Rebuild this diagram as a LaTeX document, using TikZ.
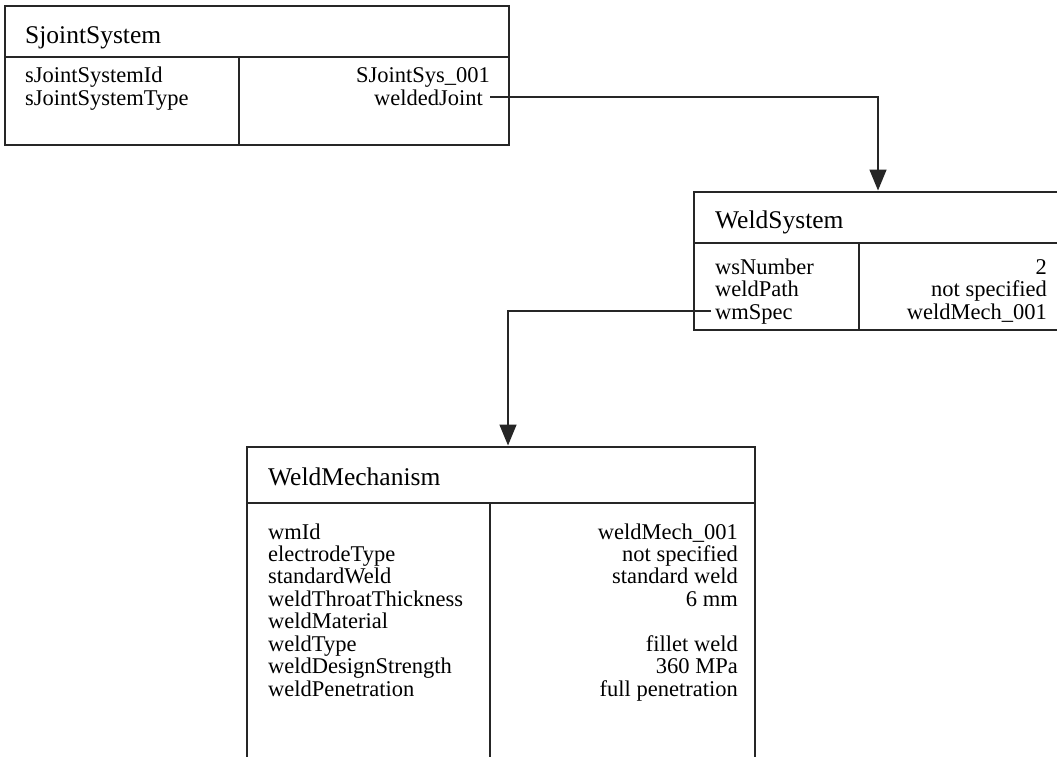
\documentclass[tikz,border=0pt]{standalone}
\usepackage{fontspec}
\setmainfont{Liberation Serif}
\usetikzlibrary{arrows.meta,calc}
\begin{document}
\begin{tikzpicture}[x=1pt,y=-1pt,
  frame/.style={draw=black!85, line width=1.8pt},
  boxnode/.style={frame, anchor=north west, inner sep=0pt, outer sep=0pt},
  link/.style={draw=black!85, line width=1.5pt, shorten >=1.5pt,
    -{Triangle[width=17pt,length=21pt]}},
  title/.style={anchor=base west, inner sep=0pt, font=\fontsize{25.5}{25.5}\selectfont},
  key/.style={anchor=base west, inner sep=0pt, font=\fontsize{22.5}{22.5}\selectfont},
  val/.style={anchor=base east, inner sep=0pt, font=\fontsize{22.5}{22.5}\selectfont},
]
\clip (0,0) rectangle (1057,756);
\fill[white] (0,0) rectangle (1057,756);

% ---- SjointSystem ----
\node[boxnode, minimum width=504pt, minimum height=139pt] (sjsBox) at (5,6) {};
\draw[frame] (5,57) -- (509,57);
\draw[frame] (239,57) -- (239,145);
\node[title] (sjsT) at (25,43) {SjointSystem};
\node[key] (sjsK1) at (25,82) {sJointSystemId};
\node[key] (sjsK2) at (25,105) {sJointSystemType};
\node[val] (sjsV1) at (490,82) {SJointSys\_001};
\node[val] (sjsV2) at (483,105) {weldedJoint};

% ---- WeldSystem (runs past the right edge) ----
\node[boxnode, minimum width=420pt, minimum height=138pt] (wsBox) at (694,192) {};
\draw[frame] (694,243) -- (1070,243);
\draw[frame] (859,243) -- (859,330);
\node[title] (wsT) at (715,228) {WeldSystem};
\node[key] (wsK1) at (715,274) {wsNumber};
\node[key] (wsK2) at (715,296) {weldPath};
\node[key] (wsK3) at (715,319) {wmSpec};
\node[val] (wsV1) at (1047,274) {2};
\node[val] (wsV2) at (1047,296) {not specified};
\node[val] (wsV3) at (1047,319) {weldMech\_001};

% ---- WeldMechanism (runs past the bottom edge) ----
\node[boxnode, minimum width=508pt, minimum height=340pt] (wmBox) at (247,447) {};
\draw[frame] (247,503) -- (755,503);
\draw[frame] (490,503) -- (490,790);
\node[title] (wmT) at (268,485) {WeldMechanism};
\foreach \k/\v/\y [count=\i] in {
    wmId/weldMech\_001/539,
    electrodeType/not specified/561,
    standardWeld/standard weld/583,
    weldThroatThickness/6 mm/606,
    weldMaterial//628,
    weldType/fillet weld/651,
    weldDesignStrength/360 MPa/673,
    weldPenetration/full penetration/696} {
  \node[key] (wmK\i) at (268,\y) {\k};
  \node[val] (wmV\i) at (738,\y) {\v};
}

% ---- references ----
\draw[link] ($(sjsV2.base east)+(7,-8)$) -| ($(wsBox.north west)+(184,0)$);
\draw[link] ($(wsK3.base west)+(-4,-8)$) -| ($(wmBox.north west)+(261,0)$);
\end{tikzpicture}
\end{document}
